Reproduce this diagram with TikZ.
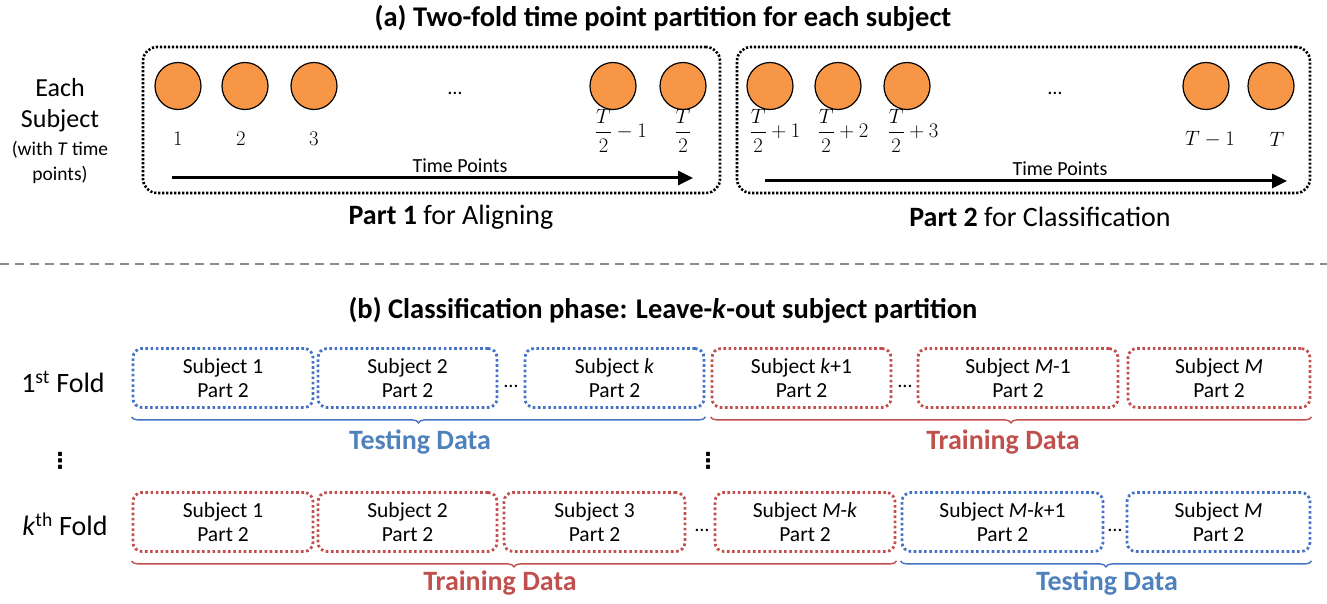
\documentclass[tikz,border=0pt]{standalone}
\usepackage{fontspec}
\setmainfont{Carlito}
\newfontfamily\dejavu{DejaVu Sans}
\usepackage{amsmath}
\usetikzlibrary{arrows.meta,decorations.pathreplacing,shapes.geometric}
\definecolor{orng}{RGB}{247,150,70}
\definecolor{blu}{RGB}{68,114,196}
\definecolor{rd}{RGB}{192,80,77}
\definecolor{tblu}{RGB}{79,129,189}
\definecolor{dgray}{RGB}{140,140,140}
\tikzset{
  ttl/.style={font=\fontsize{28.5}{32}\selectfont\bfseries},
  partbox/.style={draw, line width=2.6pt, dash pattern=on 2.2pt off 1.8pt, rounded corners=14pt},
  tpt/.style={ellipse, draw, line width=1.2pt, fill=orng, minimum width=46pt, minimum height=47pt, inner sep=0pt},
  tlab/.style={font=\fontsize{20}{22}\selectfont},
  side/.style={font=\fontsize{26}{30}\selectfont},
  sidesmall/.style={font=\fontsize{19.5}{22}\selectfont},
  tparrow/.style={line width=3pt, -{Triangle[length=15pt,width=14pt]}},
  tplabel/.style={font=\fontsize{20}{22}\selectfont},
  partlab/.style={font=\fontsize{28}{32}\selectfont},
  subj/.style={draw, line width=2.8pt, dash pattern=on 2.6pt off 2.6pt, rounded corners=9pt, minimum height=59pt, align=center, inner sep=0pt, font=\fontsize{21.5}{24}\selectfont, text=black},
  bsub/.style={subj, draw=blu},
  rsub/.style={subj, draw=rd},
  ell/.style={font=\fontsize{20}{22}\selectfont, anchor=base},
  bbrace/.style={draw=blu, line width=1.4pt, decorate, decoration={brace, mirror, amplitude=6pt}},
  rbrace/.style={draw=rd, line width=1.4pt, decorate, decoration={brace, mirror, amplitude=6pt}},
  testlab/.style={font=\fontsize{28}{32}\selectfont\bfseries, text=tblu},
  trainlab/.style={font=\fontsize{28}{32}\selectfont\bfseries, text=rd},
  vdot/.style={font=\fontsize{22}{24}\selectfont\dejavu\bfseries, inner sep=0pt},
}
\begin{document}
\begin{tikzpicture}[x=1pt,y=-1pt]
\useasboundingbox (0,0) rectangle (1327,604);

% (a) title
\node[ttl] (ta) at (663,18) {(a) Two-fold time point partition for each subject};

% side labels
\node[side] (each) at (60,88) {Each};
\node[side] (subject) at (60,121) {Subject};
\node[sidesmall] (with) at (60,150) {(with \textit{T} time};
\node[sidesmall] (points) at (60,175) {points)};

% part boxes
\node[partbox, minimum width=577pt, minimum height=146pt] (box1) at (431.5,120) {};
\node[partbox, minimum width=573pt, minimum height=146pt] (box2) at (1023.5,120) {};

% time points, part 1
\node[tpt] (c1) at (178,86) {};
\node[tpt] (c2) at (245,86) {};
\node[tpt] (c3) at (314,86) {};
\node[tpt] (c4) at (613,86) {};
\node[tpt] (c5) at (683,86) {};
\node[ell] (d1) at (455,95) {…};
\node[tlab] (l1) at (178,139) {$1$};
\node[tlab] (l2) at (241,139) {$2$};
\node[tlab] (l3) at (314,139) {$3$};
\node[tlab] (l4) at (621,131) {$\dfrac{T}{2}-1$};
\node[tlab] (l5) at (683,131) {$\dfrac{T}{2}$};

% time points, part 2
\node[tpt] (e1) at (770,86) {};
\node[tpt] (e2) at (838,86) {};
\node[tpt] (e3) at (907,86) {};
\node[tpt] (e4) at (1206,86) {};
\node[tpt] (e5) at (1271,86) {};
\node[ell] (d2) at (1055,95) {…};
\node[tlab] (m1) at (775,131) {$\dfrac{T}{2}+1$};
\node[tlab] (m2) at (843,131) {$\dfrac{T}{2}+2$};
\node[tlab] (m3) at (913,131) {$\dfrac{T}{2}+3$};
\node[tlab] (m4) at (1210,139) {$T-1$};
\node[tlab] (m5) at (1277,139) {$T$};

% arrows
\coordinate (a1s) at (172,178);
\coordinate (a1e) at (693,178);
\draw[tparrow] (a1s) -- (a1e);
\node[tplabel] (tp1) at (460,166) {Time Points};
\coordinate (a2s) at (765,181);
\coordinate (a2e) at (1287,181);
\draw[tparrow] (a2s) -- (a2e);
\node[tplabel] (tp2) at (1060,169) {Time Points};

\node[partlab] (p1) at (451,217) {\textbf{Part 1} for Aligning};
\node[partlab] (p2) at (1040,217) {\textbf{Part 2} for Classification};

% separator
\coordinate (sepl) at (0,264);
\coordinate (sepr) at (1327,264);
\draw[dgray, line width=2.6pt, dash pattern=on 9pt off 6pt] (sepl) -- (sepr);

% (b) title
\node[ttl] (tb) at (663,310) {(b) Classification phase: Leave-\textit{k}-out subject partition};

% row 1
\node[side, font=\fontsize{28}{32}\selectfont] (f1) at (63,382) {1\textsuperscript{st} Fold};
\node[bsub, minimum width=180pt] (r11) at (223,378) {Subject 1\\Part 2};
\node[bsub, minimum width=179pt] (r12) at (407.5,378) {Subject 2\\Part 2};
\node[ell] (r1d1) at (511,387) {…};
\node[bsub, minimum width=179pt] (r13) at (614.5,378) {Subject \textit{k}\\Part 2};
\node[rsub, minimum width=179pt] (r14) at (801.5,378) {Subject \textit{k}+1\\Part 2};
\node[ell] (r1d2) at (905,387) {…};
\node[rsub, minimum width=200pt] (r15) at (1018,378) {Subject \textit{M}-1\\Part 2};
\node[rsub, minimum width=182pt] (r16) at (1219,378) {Subject \textit{M}\\Part 2};

\draw[bbrace] ([yshift=-8pt]r11.south west) -- ([yshift=-8pt]r13.south east);
\draw[rbrace] ([yshift=-8pt]r14.south west) -- ([yshift=-8pt]r16.south east);
\node[testlab] (te1) at (420,442) {Testing Data};
\node[trainlab] (tr1) at (1003,442) {Training Data};

% vertical dots
\node[vdot] (vd1) at (60,461) {⋮};
\node[vdot] (vd2) at (708,461) {⋮};

% row k
\node[side, font=\fontsize{28}{32}\selectfont] (fk) at (65,524) {\textit{k}\textsuperscript{th} Fold};
\node[rsub, minimum width=180pt] (rk1) at (223,522) {Subject 1\\Part 2};
\node[rsub, minimum width=179pt] (rk2) at (407.5,522) {Subject 2\\Part 2};
\node[rsub, minimum width=181pt] (rk3) at (594.5,522) {Subject 3\\Part 2};
\node[ell] (rkd1) at (702,531) {…};
\node[rsub, minimum width=180pt] (rk4) at (805,522) {Subject \textit{M}-\textit{k}\\Part 2};
\node[bsub, minimum width=201pt] (rk5) at (1002.5,522) {Subject \textit{M}-\textit{k}+1\\Part 2};
\node[ell] (rkd2) at (1115,531) {…};
\node[bsub, minimum width=183pt] (rk6) at (1218.5,522) {Subject \textit{M}\\Part 2};

\draw[rbrace] ([yshift=-8pt]rk1.south west) -- ([yshift=-8pt]rk4.south east);
\draw[bbrace] ([yshift=-8pt]rk5.south west) -- ([yshift=-8pt]rk6.south east);
\node[trainlab] (tr2) at (500,583) {Training Data};
\node[testlab] (te2) at (1107,583) {Testing Data};
\end{tikzpicture}
\end{document}
